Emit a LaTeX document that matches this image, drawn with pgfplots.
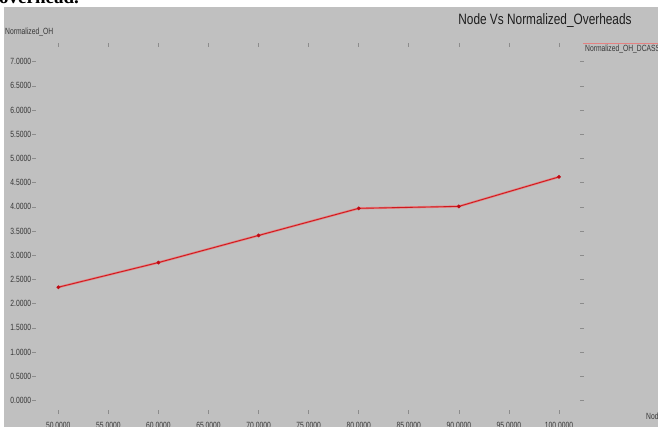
\documentclass[border=0pt]{standalone}
\usepackage{fontspec}
\setmainfont{Liberation Sans}[FakeStretch=0.75]
\newfontfamily\titlefont{Liberation Sans}[FakeStretch=0.79]
\newfontfamily\docfont{Liberation Serif}
\usepackage{pgfplots}
\pgfplotsset{compat=1.18}
\definecolor{bggray}{RGB}{192,192,192}
\definecolor{txt}{RGB}{55,55,55}
\definecolor{tickc}{RGB}{140,140,140}
\definecolor{lcore}{RGB}{205,25,30}
\definecolor{lhalo}{RGB}{228,130,130}
\definecolor{mk}{RGB}{190,10,20}
\begin{document}
\begin{tikzpicture}[x=1pt,y=1pt]
\useasboundingbox (0,0) rectangle (658,427);
\begin{scope}
\clip (0,0) rectangle (658,427);
\fill[white] (0,0) rectangle (658,427);
\node[anchor=base west, inner sep=0pt, font=\docfont\fontsize{19}{19}\selectfont\bfseries] at (-1,423) {overhead.};
\fill[bggray] (4,0) rectangle (658,419.5);
\begin{axis}[
  at={(34pt,15pt)}, anchor=south west,
  scale only axis, width=548pt, height=367pt,
  xmin=47.573, xmax=102.297, ymin=-0.2376, ymax=7.345,
  separate axis lines, axis line style={draw=none},
  xtick={50,55,60,65,70,75,80,85,90,95,100},
  xticklabels={50.0000,55.0000,60.0000,65.0000,70.0000,75.0000,80.0000,85.0000,90.0000,95.0000,100.0000},
  ytick={0,0.5,1,1.5,2,2.5,3,3.5,4,4.5,5,5.5,6,6.5,7},
  yticklabels={0.0000,0.5000,1.0000,1.5000,2.0000,2.5000,3.0000,3.5000,4.0000,4.5000,5.0000,5.5000,6.0000,6.5000,7.0000},
  tick align=center, major tick length=3.5pt,
  tick style={tickc, line width=0.6pt},
  ticklabel style={font=\fontsize{9}{9}\selectfont, text=txt, inner sep=0pt},
  xticklabel style={anchor=north, yshift=-8pt},
  yticklabel style={anchor=east, xshift=-1pt},
  clip=false,
]
\addplot[lhalo, line width=2.2pt, no marks] coordinates {
  (50,2.34) (60,2.85) (70,3.41) (80,3.97) (90,4.01) (100,4.62)
};
\addplot[lcore, line width=0.9pt, mark=*, mark size=1.4pt, mark options={fill=mk, draw=mk}] coordinates {
  (50,2.34) (60,2.85) (70,3.41) (80,3.97) (90,4.01) (100,4.62)
};
\end{axis}
\node[anchor=base, inner sep=0pt, font=\titlefont\fontsize{15}{15}\selectfont, text={rgb,255:red,30;green,30;blue,30}] at (545,402) {Node Vs Normalized\_Overheads};
\node[anchor=base west, inner sep=0pt, font=\fontsize{9}{9}\selectfont, text=txt] at (5,392) {Normalized\_OH};
\draw[lhalo, line width=0.8pt] (583,383.7) -- (662,383.7);
\node[anchor=base west, inner sep=0pt, font=\fontsize{9}{9}\selectfont, text=txt] at (585,375.3) {Normalized\_OH\_DCASS};
\node[anchor=base west, inner sep=0pt, font=\fontsize{9}{9}\selectfont, text=txt] at (646,7.6) {Nodes};
\end{scope}
\end{tikzpicture}
\end{document}
